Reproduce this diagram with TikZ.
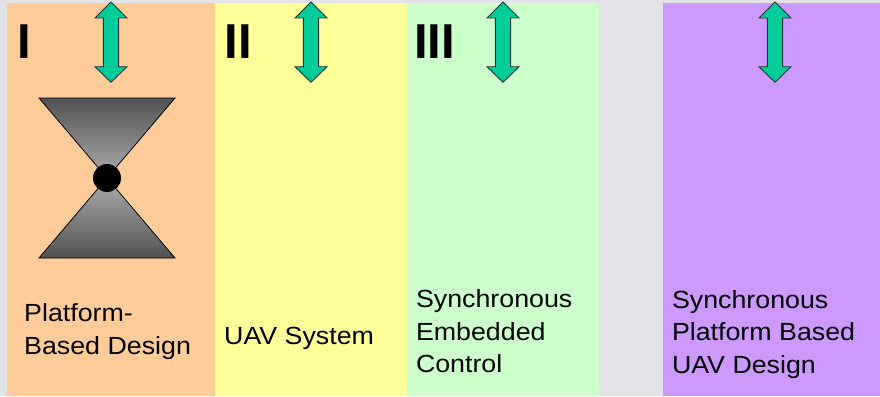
\documentclass[tikz,border=0pt]{standalone}
\usepackage{fontspec}
\setmainfont[FakeStretch=1.08]{Liberation Sans}
\newfontfamily\numeralfont{Liberation Sans}
\usetikzlibrary{positioning}
\definecolor{bggray}{RGB}{226,226,231}
\definecolor{paneorange}{RGB}{255,204,153}
\definecolor{paneyellow}{RGB}{255,255,153}
\definecolor{panegreen}{RGB}{204,255,204}
\definecolor{panepurple}{RGB}{204,153,255}
\definecolor{arrowgreen}{RGB}{0,204,153}
\definecolor{arrowedge}{RGB}{40,50,50}
\tikzset{
  pane/.style={draw=none},
  numeral/.style={anchor=base west, inner sep=0pt, font=\numeralfont\fontsize{49}{49}\selectfont\bfseries},
  caption/.style={anchor=base west, inner sep=0pt, align=left,
    font=\fontsize{24.8}{32.5}\selectfont},
  arrowbody/.style={fill=arrowgreen, draw=arrowedge, line width=0.9pt, line join=miter},
  duplex/.pic={
    \draw[arrowbody] (0,2) -- (16,18) -- (7.6,18) -- (7.6,66.7) -- (16,66.7)
      -- (0,82.3) -- (-16,66.7) -- (-7.6,66.7) -- (-7.6,18) -- (-16,18) -- cycle;
  },
  cone/.style={draw=black, line width=0.8pt}
}
\begin{document}
\begin{tikzpicture}[x=1pt, y=-1pt]
  % canvas
  \fill[bggray] (0,0) rectangle (880,396);
  \useasboundingbox (0,0) rectangle (880,396);

  % four panels
  \fill[paneorange] (7,3) rectangle (215,396);
  \fill[paneyellow] (215,3) rectangle (407,396);
  \fill[panegreen]  (407,3) rectangle (599,396);
  \fill[panepurple] (663,3) rectangle (880,396);

  % two-way arrows at the top of each panel
  \pic at (111,0) {duplex};
  \pic at (311,0) {duplex};
  \pic at (503,0) {duplex};
  \pic at (775,0) {duplex};

  % roman numerals
  \node[numeral] (n1) at (17,59) {I};
  \node[numeral] (n2) at (224.7,59) {II};
  \node[numeral] (n3) at (414,59) {III};

  % hourglass symbol
  \shade[top color=black!68, bottom color=black!32, cone]
    (39,98) -- (175,98) -- (107,178) -- cycle;
  \shade[top color=black!32, bottom color=black!68, cone]
    (107,178) -- (175,258) -- (39,258) -- cycle;
  \fill[black] (107,178) circle[radius=14];

  % captions (anchored on the baseline of their last line)
  \node[caption] (c1) at (24,354) {Platform-\\Based Design};
  \node[caption] (c2) at (224,344) {UAV System};
  \node[caption] (c3) at (415.8,372.5) {Synchronous\\Embedded\\Control};
  \node[caption] (c4) at (671.8,373) {Synchronous\\Platform Based\\UAV Design};
\end{tikzpicture}
\end{document}
